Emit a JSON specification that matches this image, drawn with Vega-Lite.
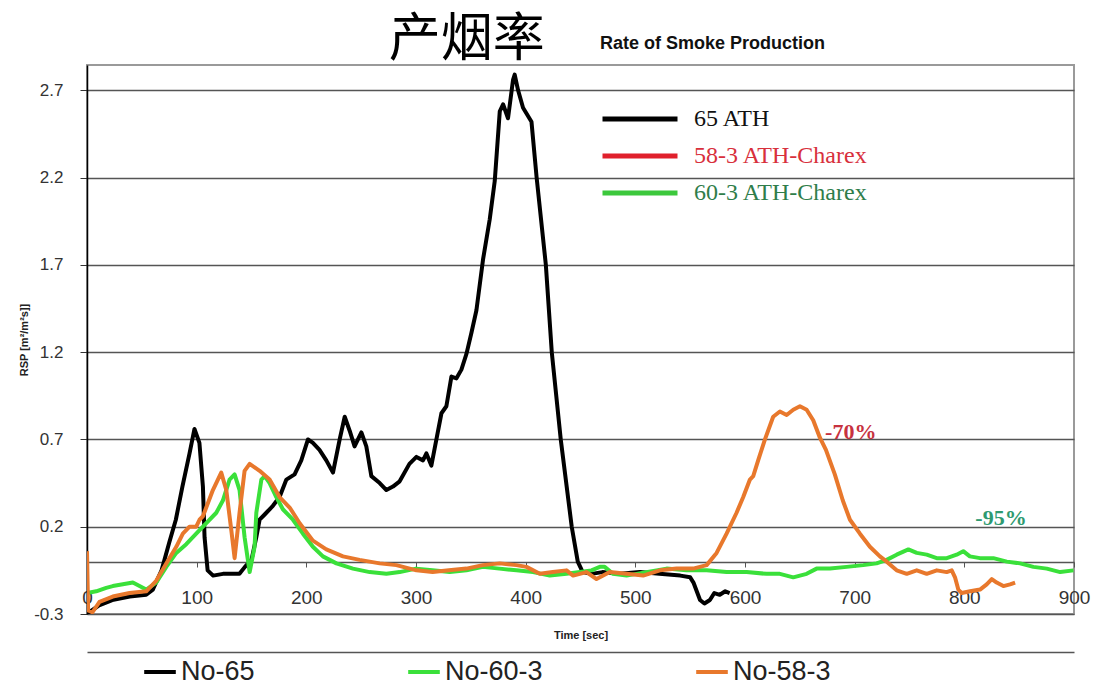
{
"$schema": "https://vega.github.io/schema/vega-lite/v6.json",
"width": 987, "height": 549,
"autosize": {"type": "none"},
"padding": {"left": 87, "top": 65, "right": 26, "bottom": 76},
"background": "white",
"config": {"view": {"stroke": "#9a9a9a", "strokeWidth": 2}},
"title": {"text": "产烟率", "anchor": "start", "dx": 370, "dy": 38, "font": "Noto Sans CJK SC", "fontSize": 52, "fontWeight": "normal", "color": "#000000", "offset": 6},
"datasets": {
"rsp": [
{"s":"No-65","t":0,"v":-0.29},{"s":"No-65","t":2,"v":-0.29},{"s":"No-65","t":11,"v":-0.25},{"s":"No-65","t":23,"v":-0.22},{"s":"No-65","t":39,"v":-0.2},{"s":"No-65","t":54,"v":-0.19},{"s":"No-65","t":60,"v":-0.16},{"s":"No-65","t":68,"v":-0.05},{"s":"No-65","t":75,"v":0.11},{"s":"No-65","t":81,"v":0.24},{"s":"No-65","t":87,"v":0.43},{"s":"No-65","t":93.5,"v":0.62},{"s":"No-65","t":98,"v":0.76},{"s":"No-65","t":102.5,"v":0.68},{"s":"No-65","t":105.7,"v":0.43},{"s":"No-65","t":107.2,"v":0.14},{"s":"No-65","t":110,"v":-0.05},{"s":"No-65","t":115,"v":-0.08},{"s":"No-65","t":124,"v":-0.07},{"s":"No-65","t":139,"v":-0.07},{"s":"No-65","t":144,"v":-0.03},{"s":"No-65","t":150,"v":0.01},{"s":"No-65","t":154.4,"v":0.14},{"s":"No-65","t":157.4,"v":0.24},{"s":"No-65","t":162,"v":0.27},{"s":"No-65","t":166.5,"v":0.3},{"s":"No-65","t":169.5,"v":0.32},{"s":"No-65","t":175.6,"v":0.37},{"s":"No-65","t":181.8,"v":0.47},{"s":"No-65","t":189.3,"v":0.5},{"s":"No-65","t":195.4,"v":0.58},{"s":"No-65","t":201.5,"v":0.7},{"s":"No-65","t":206,"v":0.68},{"s":"No-65","t":212,"v":0.64},{"s":"No-65","t":218.2,"v":0.58},{"s":"No-65","t":224.3,"v":0.51},{"s":"No-65","t":230.4,"v":0.7},{"s":"No-65","t":235,"v":0.83},{"s":"No-65","t":239.5,"v":0.75},{"s":"No-65","t":244,"v":0.66},{"s":"No-65","t":250.2,"v":0.74},{"s":"No-65","t":254.7,"v":0.66},{"s":"No-65","t":259.3,"v":0.49},{"s":"No-65","t":266.9,"v":0.45},{"s":"No-65","t":273,"v":0.41},{"s":"No-65","t":279,"v":0.43},{"s":"No-65","t":285.1,"v":0.46},{"s":"No-65","t":294,"v":0.56},{"s":"No-65","t":300.4,"v":0.6},{"s":"No-65","t":306.4,"v":0.58},{"s":"No-65","t":309.5,"v":0.62},{"s":"No-65","t":314,"v":0.55},{"s":"No-65","t":318.6,"v":0.7},{"s":"No-65","t":323.2,"v":0.85},{"s":"No-65","t":327.7,"v":0.89},{"s":"No-65","t":332.3,"v":1.06},{"s":"No-65","t":336.9,"v":1.05},{"s":"No-65","t":341.4,"v":1.1},{"s":"No-65","t":346,"v":1.19},{"s":"No-65","t":350.5,"v":1.31},{"s":"No-65","t":355.1,"v":1.44},{"s":"No-65","t":361.1,"v":1.73},{"s":"No-65","t":367.2,"v":1.96},{"s":"No-65","t":371.8,"v":2.18},{"s":"No-65","t":376.4,"v":2.58},{"s":"No-65","t":379.4,"v":2.62},{"s":"No-65","t":383.9,"v":2.54},{"s":"No-65","t":388.5,"v":2.76},{"s":"No-65","t":390,"v":2.79},{"s":"No-65","t":393.1,"v":2.7},{"s":"No-65","t":397.6,"v":2.6},{"s":"No-65","t":405.3,"v":2.52},{"s":"No-65","t":410,"v":2.2},{"s":"No-65","t":418.4,"v":1.7},{"s":"No-65","t":423.8,"v":1.2},{"s":"No-65","t":432,"v":0.7},{"s":"No-65","t":442,"v":0.2},{"s":"No-65","t":447.5,"v":0.0},{"s":"No-65","t":452,"v":-0.06},{"s":"No-65","t":460,"v":-0.07},{"s":"No-65","t":470,"v":-0.06},{"s":"No-65","t":486,"v":-0.07},{"s":"No-65","t":504,"v":-0.06},{"s":"No-65","t":522,"v":-0.07},{"s":"No-65","t":541,"v":-0.08},{"s":"No-65","t":550,"v":-0.09},{"s":"No-65","t":553,"v":-0.12},{"s":"No-65","t":556,"v":-0.17},{"s":"No-65","t":559,"v":-0.22},{"s":"No-65","t":563,"v":-0.24},{"s":"No-65","t":568,"v":-0.22},{"s":"No-65","t":572,"v":-0.18},{"s":"No-65","t":577,"v":-0.19},{"s":"No-65","t":582,"v":-0.17},{"s":"No-65","t":586,"v":-0.18},
{"s":"No-60-3","t":0,"v":-0.18},{"s":"No-60-3","t":8.4,"v":-0.17},{"s":"No-60-3","t":17.5,"v":-0.15},{"s":"No-60-3","t":23.5,"v":-0.14},{"s":"No-60-3","t":32.7,"v":-0.13},{"s":"No-60-3","t":41.8,"v":-0.12},{"s":"No-60-3","t":47.9,"v":-0.14},{"s":"No-60-3","t":54,"v":-0.16},{"s":"No-60-3","t":63.1,"v":-0.12},{"s":"No-60-3","t":72.3,"v":-0.03},{"s":"No-60-3","t":81.4,"v":0.05},{"s":"No-60-3","t":90.5,"v":0.1},{"s":"No-60-3","t":99.6,"v":0.16},{"s":"No-60-3","t":108.8,"v":0.22},{"s":"No-60-3","t":117.9,"v":0.28},{"s":"No-60-3","t":123.9,"v":0.35},{"s":"No-60-3","t":130,"v":0.47},{"s":"No-60-3","t":134.6,"v":0.5},{"s":"No-60-3","t":139.1,"v":0.41},{"s":"No-60-3","t":143.7,"v":0.14},{"s":"No-60-3","t":148.3,"v":-0.06},{"s":"No-60-3","t":152.8,"v":0.085},{"s":"No-60-3","t":154.4,"v":0.28},{"s":"No-60-3","t":159,"v":0.47},{"s":"No-60-3","t":162,"v":0.49},{"s":"No-60-3","t":166.5,"v":0.45},{"s":"No-60-3","t":172.6,"v":0.37},{"s":"No-60-3","t":178.6,"v":0.3},{"s":"No-60-3","t":187.8,"v":0.24},{"s":"No-60-3","t":196.9,"v":0.16},{"s":"No-60-3","t":206,"v":0.085},{"s":"No-60-3","t":215.1,"v":0.03},{"s":"No-60-3","t":227.4,"v":-0.01},{"s":"No-60-3","t":242.5,"v":-0.04},{"s":"No-60-3","t":257.8,"v":-0.06},{"s":"No-60-3","t":273,"v":-0.07},{"s":"No-60-3","t":285.1,"v":-0.06},{"s":"No-60-3","t":300,"v":-0.04},{"s":"No-60-3","t":315,"v":-0.05},{"s":"No-60-3","t":330.7,"v":-0.06},{"s":"No-60-3","t":346,"v":-0.05},{"s":"No-60-3","t":361,"v":-0.03},{"s":"No-60-3","t":376,"v":-0.04},{"s":"No-60-3","t":391.6,"v":-0.05},{"s":"No-60-3","t":406.8,"v":-0.06},{"s":"No-60-3","t":422,"v":-0.08},{"s":"No-60-3","t":437.2,"v":-0.07},{"s":"No-60-3","t":449.4,"v":-0.06},{"s":"No-60-3","t":460,"v":-0.05},{"s":"No-60-3","t":467.6,"v":-0.03},{"s":"No-60-3","t":472,"v":-0.03},{"s":"No-60-3","t":479.7,"v":-0.07},{"s":"No-60-3","t":492,"v":-0.08},{"s":"No-60-3","t":510,"v":-0.06},{"s":"No-60-3","t":528.5,"v":-0.04},{"s":"No-60-3","t":546.7,"v":-0.05},{"s":"No-60-3","t":565,"v":-0.05},{"s":"No-60-3","t":583.2,"v":-0.06},{"s":"No-60-3","t":601.5,"v":-0.06},{"s":"No-60-3","t":619.7,"v":-0.07},{"s":"No-60-3","t":631.8,"v":-0.07},{"s":"No-60-3","t":644,"v":-0.09},{"s":"No-60-3","t":656.2,"v":-0.07},{"s":"No-60-3","t":665.3,"v":-0.04},{"s":"No-60-3","t":677.5,"v":-0.04},{"s":"No-60-3","t":692.7,"v":-0.03},{"s":"No-60-3","t":707.8,"v":-0.02},{"s":"No-60-3","t":720,"v":-0.01},{"s":"No-60-3","t":729.2,"v":0.01},{"s":"No-60-3","t":738.3,"v":0.04},{"s":"No-60-3","t":749,"v":0.07},{"s":"No-60-3","t":756.6,"v":0.05},{"s":"No-60-3","t":765.7,"v":0.04},{"s":"No-60-3","t":774.8,"v":0.02},{"s":"No-60-3","t":784,"v":0.02},{"s":"No-60-3","t":793,"v":0.04},{"s":"No-60-3","t":799,"v":0.06},{"s":"No-60-3","t":805,"v":0.03},{"s":"No-60-3","t":814.3,"v":0.02},{"s":"No-60-3","t":826.5,"v":0.02},{"s":"No-60-3","t":838.7,"v":0.0},{"s":"No-60-3","t":850.8,"v":-0.01},{"s":"No-60-3","t":863,"v":-0.03},{"s":"No-60-3","t":875.2,"v":-0.04},{"s":"No-60-3","t":887.4,"v":-0.06},{"s":"No-60-3","t":899.5,"v":-0.05},
{"s":"No-58-3","t":0,"v":0.06},{"s":"No-58-3","t":1,"v":-0.28},{"s":"No-58-3","t":5,"v":-0.29},{"s":"No-58-3","t":11.4,"v":-0.23},{"s":"No-58-3","t":23.5,"v":-0.2},{"s":"No-58-3","t":38.8,"v":-0.18},{"s":"No-58-3","t":54,"v":-0.17},{"s":"No-58-3","t":63.1,"v":-0.11},{"s":"No-58-3","t":72.3,"v":-0.01},{"s":"No-58-3","t":81.4,"v":0.085},{"s":"No-58-3","t":87.4,"v":0.16},{"s":"No-58-3","t":93.5,"v":0.2},{"s":"No-58-3","t":99.6,"v":0.2},{"s":"No-58-3","t":102.6,"v":0.24},{"s":"No-58-3","t":105.7,"v":0.26},{"s":"No-58-3","t":114.8,"v":0.41},{"s":"No-58-3","t":122.4,"v":0.51},{"s":"No-58-3","t":127,"v":0.41},{"s":"No-58-3","t":131.6,"v":0.18},{"s":"No-58-3","t":134.6,"v":0.02},{"s":"No-58-3","t":139.1,"v":0.28},{"s":"No-58-3","t":143.7,"v":0.52},{"s":"No-58-3","t":148.3,"v":0.56},{"s":"No-58-3","t":157.4,"v":0.52},{"s":"No-58-3","t":166.5,"v":0.47},{"s":"No-58-3","t":175.6,"v":0.37},{"s":"No-58-3","t":184.8,"v":0.31},{"s":"No-58-3","t":193.9,"v":0.22},{"s":"No-58-3","t":206,"v":0.12},{"s":"No-58-3","t":218.2,"v":0.07},{"s":"No-58-3","t":233.4,"v":0.03},{"s":"No-58-3","t":248.6,"v":0.01},{"s":"No-58-3","t":266.9,"v":-0.01},{"s":"No-58-3","t":282.1,"v":-0.02},{"s":"No-58-3","t":300.4,"v":-0.05},{"s":"No-58-3","t":315.2,"v":-0.06},{"s":"No-58-3","t":330,"v":-0.05},{"s":"No-58-3","t":346,"v":-0.04},{"s":"No-58-3","t":360.9,"v":-0.02},{"s":"No-58-3","t":376.4,"v":-0.01},{"s":"No-58-3","t":391.6,"v":-0.02},{"s":"No-58-3","t":400.7,"v":-0.03},{"s":"No-58-3","t":412.9,"v":-0.07},{"s":"No-58-3","t":424.7,"v":-0.06},{"s":"No-58-3","t":437.2,"v":-0.05},{"s":"No-58-3","t":443.3,"v":-0.08},{"s":"No-58-3","t":455.5,"v":-0.06},{"s":"No-58-3","t":464.6,"v":-0.1},{"s":"No-58-3","t":476.7,"v":-0.06},{"s":"No-58-3","t":492,"v":-0.07},{"s":"No-58-3","t":507.1,"v":-0.08},{"s":"No-58-3","t":522.4,"v":-0.05},{"s":"No-58-3","t":537.6,"v":-0.04},{"s":"No-58-3","t":552.7,"v":-0.04},{"s":"No-58-3","t":565,"v":-0.02},{"s":"No-58-3","t":574.1,"v":0.05},{"s":"No-58-3","t":583.2,"v":0.16},{"s":"No-58-3","t":592.3,"v":0.28},{"s":"No-58-3","t":598.4,"v":0.37},{"s":"No-58-3","t":604.5,"v":0.47},{"s":"No-58-3","t":607.5,"v":0.49},{"s":"No-58-3","t":612,"v":0.58},{"s":"No-58-3","t":618.2,"v":0.7},{"s":"No-58-3","t":625.7,"v":0.83},{"s":"No-58-3","t":631.8,"v":0.86},{"s":"No-58-3","t":638,"v":0.84},{"s":"No-58-3","t":644,"v":0.87},{"s":"No-58-3","t":650.1,"v":0.89},{"s":"No-58-3","t":656.2,"v":0.87},{"s":"No-58-3","t":662.2,"v":0.81},{"s":"No-58-3","t":668.3,"v":0.71},{"s":"No-58-3","t":673.8,"v":0.64},{"s":"No-58-3","t":681.9,"v":0.5},{"s":"No-58-3","t":689.2,"v":0.35},{"s":"No-58-3","t":695.7,"v":0.24},{"s":"No-58-3","t":704.8,"v":0.16},{"s":"No-58-3","t":713.9,"v":0.085},{"s":"No-58-3","t":723,"v":0.03},{"s":"No-58-3","t":729.2,"v":0.0},{"s":"No-58-3","t":738.3,"v":-0.05},{"s":"No-58-3","t":747.5,"v":-0.07},{"s":"No-58-3","t":756.6,"v":-0.05},{"s":"No-58-3","t":765.7,"v":-0.07},{"s":"No-58-3","t":774.9,"v":-0.05},{"s":"No-58-3","t":783.9,"v":-0.06},{"s":"No-58-3","t":788.5,"v":-0.05},{"s":"No-58-3","t":791.5,"v":-0.09},{"s":"No-58-3","t":794.5,"v":-0.16},{"s":"No-58-3","t":797.6,"v":-0.18},{"s":"No-58-3","t":805.2,"v":-0.17},{"s":"No-58-3","t":814.3,"v":-0.16},{"s":"No-58-3","t":820.4,"v":-0.13},{"s":"No-58-3","t":825,"v":-0.1},{"s":"No-58-3","t":829.5,"v":-0.12},{"s":"No-58-3","t":835.6,"v":-0.14},{"s":"No-58-3","t":841.7,"v":-0.13},{"s":"No-58-3","t":846.3,"v":-0.12}
],
"leg": [{"k":"65   ATH"},{"k":"58-3 ATH-Charex"},{"k":"60-3 ATH-Charex"}],
"ann70": [{"label":"-70%","t":673,"v":0.74}],
"ann95": [{"label":"-95%","t":810,"v":0.25}]
},
"layer": [
{
"data": {"name": "rsp"},
"mark": {"type": "line", "strokeWidth": 4, "clip": true, "strokeJoin": "round"},
"encoding": {
"x": {"field": "t", "type": "quantitative", "scale": {"domain": [0, 900], "nice": false, "zero": false},
 "axis": {"orient": "bottom", "offset": -52, "values": [0,100,200,300,400,500,600,700,800,900], "grid": false, "labelFlush": false, "labelOverlap": false, "domainColor": "#555555", "domainWidth": 1.5, "tickColor": "#555555", "tickSize": 5, "labelFont": "Liberation Sans", "labelFontSize": 19, "labelColor": "#333333", "labelPadding": 21, "title": "Time [sec]", "titleFont": "Liberation Sans", "titleFontSize": 11, "titleFontWeight": "bold", "titleColor": "#222222", "titlePadding": 22}},
"y": {"field": "v", "type": "quantitative", "scale": {"domain": [-0.3, 2.845], "nice": false, "zero": false},
 "axis": {"values": [-0.3,0.2,0.7,1.2,1.7,2.2,2.7], "labelExpr": "datum.value < 0 ? '-0.3' : format(datum.value, '.1f')", "grid": true, "gridColor": "#555555", "gridWidth": 1.5, "domainColor": "#000000", "domainWidth": 1.5, "tickColor": "#333333", "tickSize": 7, "labelFont": "Liberation Sans", "labelFontSize": 17, "labelColor": "#333333", "labelPadding": 17, "title": "RSP [m²/m²s]]", "titleFont": "Liberation Sans", "titleFontSize": 11, "titleFontWeight": "bold", "titleColor": "#222222", "titlePadding": 4}},
"color": {"field": "s", "type": "nominal",
 "scale": {"domain": ["No-65", "No-60-3", "No-58-3"], "range": ["#000000", "#3ae03a", "#e8782c"]},
 "legend": {"orient": "none", "legendX": 55, "legendY": 589, "direction": "horizontal", "title": null, "symbolType": "stroke", "symbolSize": 1000, "symbolStrokeWidth": 4, "labelFont": "Liberation Sans", "labelFontSize": 27, "labelColor": "#222222", "labelOffset": 3, "columnPadding": 145, "labelLimit": 400}}
}
},
{
"data": {"name": "leg"},
"mark": {"type": "line", "strokeWidth": 5},
"encoding": {
"x": {"datum": 0, "type": "quantitative", "axis": {"orient": "bottom", "offset": 38, "domain": true, "domainColor": "#555555", "domainWidth": 1.5, "ticks": false, "labels": false, "grid": false, "title": null}},
"y": {"datum": 0, "type": "quantitative"},
"color": {"field": "k", "type": "nominal",
 "scale": {"domain": ["65   ATH", "58-3 ATH-Charex", "60-3 ATH-Charex"], "range": ["#000000", "#e0202c", "#3cc83c"]},
 "legend": {"orient": "none", "legendX": 513, "legendY": -30, "title": "Rate of Smoke Production", "titleFont": "Liberation Sans", "titleFontSize": 18, "titleFontWeight": "bold", "titleColor": "#111111", "titlePadding": 54, "titleLimit": 400, "symbolType": "stroke", "symbolSize": 5625, "symbolStrokeWidth": 5, "clipHeight": 24, "labelFont": "Liberation Serif", "labelFontSize": 24, "labelOffset": 14, "rowPadding": 13, "labelLimit": 400,
 "labelColor": {"expr": "datum.value == '58-3 ATH-Charex' ? '#d8303c' : datum.value == '60-3 ATH-Charex' ? '#2f7d4a' : '#111111'"}}}
}
},
{
"data": {"name": "ann70"},
"mark": {"type": "text", "font": "Liberation Serif", "fontSize": 22, "fontWeight": "bold", "color": "#c7323f", "align": "left", "baseline": "middle"},
"encoding": {"x": {"field": "t", "type": "quantitative", "axis": null}, "y": {"field": "v", "type": "quantitative"}, "text": {"field": "label"}}
},
{
"data": {"name": "ann95"},
"mark": {"type": "text", "font": "Liberation Serif", "fontSize": 22, "fontWeight": "bold", "color": "#2e9a70", "align": "left", "baseline": "middle"},
"encoding": {"x": {"field": "t", "type": "quantitative", "axis": null}, "y": {"field": "v", "type": "quantitative"}, "text": {"field": "label"}}
}
],
"resolve": {"scale": {"color": "independent"}, "axis": {"x": "independent"}}
}
